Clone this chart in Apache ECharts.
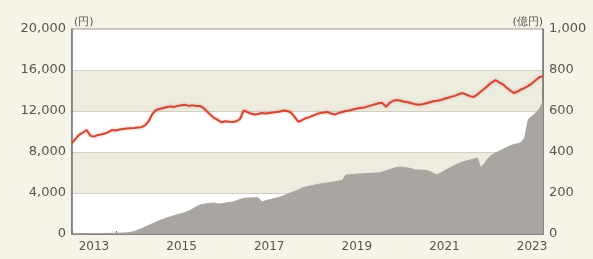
<!DOCTYPE html>
<html><head><meta charset="utf-8">
<script src="https://cdn.jsdelivr.net/npm/echarts@6/dist/echarts.min.js"></script>
<style>html,body{margin:0;padding:0;background:#f6f3e9;}#c{width:593px;height:259px;}</style>
</head><body><div id="c"></div>
<script>
// monthly points, Jan 2013 .. Oct 2023
const startYear = 2013, monthCount = 130;
const categories = [];
for (let i = 0; i < monthCount; i++) {
  const y = startYear + Math.floor(i / 12), m = (i % 12) + 1;
  categories.push(y + '-' + (m < 10 ? '0' + m : m));
}
// 基準価額 (円)
const navValues = [
  8880,9300,9700,9900,10150,9600,9500,9650,9700,9800,9950,10150,
  10100,10200,10250,10300,10320,10340,10380,10420,10600,11000,11700,12100,
  12200,12300,12390,12450,12400,12500,12550,12600,12500,12550,12480,12500,
  12300,11950,11600,11300,11100,10900,11000,10950,10930,11000,11200,12050,
  11900,11750,11650,11700,11800,11750,11800,11850,11900,11950,12050,12000,
  11850,11400,10950,11100,11300,11400,11550,11700,11800,11850,11900,11750,
  11650,11800,11900,12000,12050,12150,12250,12300,12350,12450,12550,12650,
  12750,12800,12400,12800,13000,13070,13000,12900,12850,12750,12650,12600,
  12650,12750,12850,12950,13000,13070,13200,13300,13400,13500,13650,13750,
  13600,13450,13370,13600,13900,14200,14500,14800,15020,14800,14600,14300,
  14000,13760,13900,14100,14250,14450,14700,15000,15300,15400
];
// 純資産総額 (億円)
const assetValues = [
  0,0,0,1,1,1,2,2,2,3,3,3,
  4,4,5,6,8,12,18,26,34,42,50,58,
  66,72,78,84,90,95,100,105,112,122,132,141,
  145,148,150,151,146,148,151,154,156,162,168,173,
  176,176,177,176,157,162,167,171,176,180,187,194,
  201,208,215,224,229,233,237,241,244,247,249,252,
  255,258,261,288,289,290,292,293,294,295,296,297,
  298,302,308,314,320,325,327,325,322,318,313,312,
  312,310,305,296,288,298,308,318,327,336,345,351,
  356,361,366,371,322,345,370,385,395,404,413,422,
  430,436,440,446,470,560,575,590,610,645
];
const leftTicks = [0, 4000, 8000, 12000, 16000, 20000];
const rightTicks = [0, 200, 400, 600, 800, 1000];
const leftUnit = '(円)', rightUnit = '(億円)';

const chart = echarts.init(document.getElementById('c'), null, {renderer: 'canvas'});
const fmt = v => v.toLocaleString('en-US');
const labelStyle = {color: '#555', fontFamily: 'DejaVu Sans', fontSize: 12};
chart.setOption({
  backgroundColor: '#f6f3e9',
  animation: false,
  grid: {left: 72, right: 50, top: 29, bottom: 25, show: true, borderColor: '#8f8c86', borderWidth: 1, backgroundColor: 'transparent'},
  xAxis: {
    type: 'category', data: categories, boundaryGap: false,
    axisLine: {lineStyle: {color: '#6e6c68', width: 1.5}},
    axisTick: {inside: true, length: 3, interval: i => i % 12 === 0, lineStyle: {color: '#6e6c68'}},
    axisLabel: Object.assign({interval: i => i % 24 === 6, formatter: v => v.slice(0, 4), margin: 7}, labelStyle),
    splitLine: {show: false}
  },
  yAxis: [{
    type: 'value', min: leftTicks[0], max: leftTicks[leftTicks.length - 1], interval: 4000,
    name: leftUnit, nameLocation: 'end', nameGap: 1,
    nameTextStyle: {color: '#555', fontFamily: 'DejaVu Sans', fontSize: 11, align: 'left', padding: [0, 0, 0, 2]},
    axisLine: {show: true, lineStyle: {color: '#6e6c68', width: 1.5}},
    axisTick: {show: false},
    axisLabel: Object.assign({formatter: fmt, margin: 6, fontSize: 13}, labelStyle, {fontSize: 13}),
    splitLine: {show: true, lineStyle: {color: '#d3cfc5'}},
    splitArea: {show: true, areaStyle: {color: ['#ffffff', '#eeebe0']}}
  }, {
    type: 'value', min: rightTicks[0], max: rightTicks[rightTicks.length - 1], interval: 200,
    name: rightUnit, nameLocation: 'end', nameGap: 1,
    nameTextStyle: {color: '#555', fontFamily: 'DejaVu Sans', fontSize: 11, align: 'right', padding: [0, 0, 0, 0]},
    axisLine: {show: true, lineStyle: {color: '#6e6c68', width: 1.5}},
    axisTick: {show: false},
    axisLabel: Object.assign({formatter: fmt, margin: 6}, labelStyle, {fontSize: 13}),
    splitLine: {show: false}
  }],
  series: [{
    type: 'line', yAxisIndex: 1, data: assetValues, showSymbol: false, symbol: 'none',
    lineStyle: {color: '#a9a6a1', width: 1}, areaStyle: {color: '#a9a6a1', opacity: 1}, z: 2
  }, {
    type: 'line', yAxisIndex: 0, data: navValues, showSymbol: false, symbol: 'none',
    lineStyle: {color: '#cc4a36', width: 2, shadowColor: 'rgba(225,120,100,0.6)', shadowBlur: 3}, z: 3
  }]
});
</script></body></html>
